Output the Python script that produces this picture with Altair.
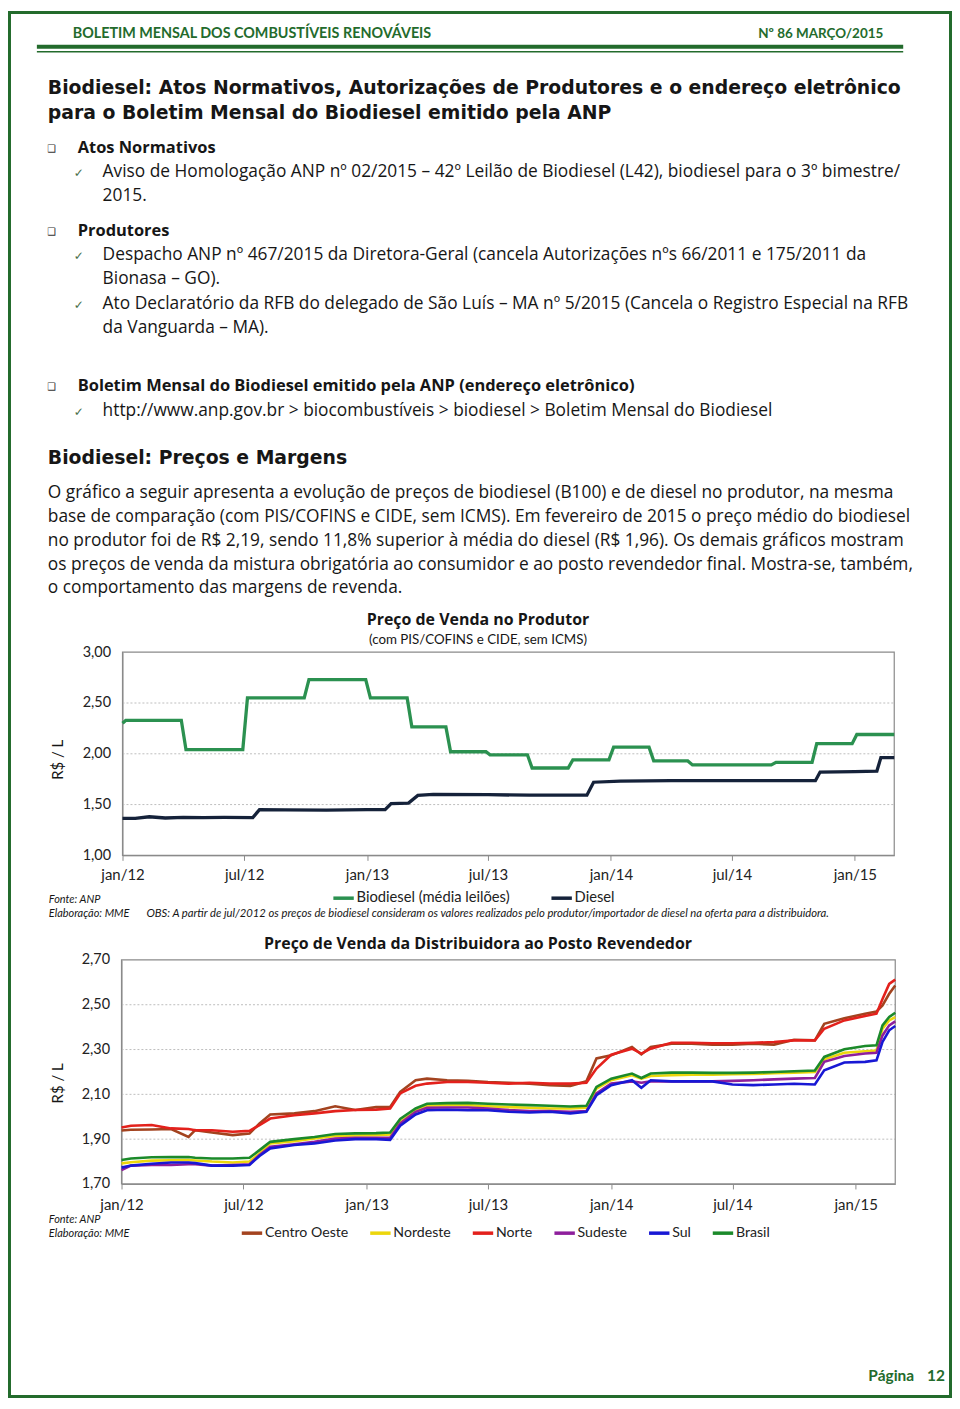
import altair as alt
import pandas as pd

# ---------------------------------------------------------------- data
producer_series = ["Biodiesel (média leilões)", "Diesel"]
producer_colors = ["#2b9150", "#15223a"]

bio_dates = ["2012-01-01", "2012-01-06", "2012-03-29", "2012-04-05", "2012-06-29", "2012-07-06",
             "2012-09-29", "2012-10-06", "2012-12-30", "2013-01-06", "2013-03-02", "2013-03-09",
             "2013-04-29", "2013-05-06", "2013-06-28", "2013-07-04", "2013-08-29", "2013-09-05",
             "2013-10-29", "2013-11-05", "2013-12-29", "2014-01-05", "2014-02-27", "2014-03-06",
             "2014-04-26", "2014-05-03", "2014-08-29", "2014-09-05", "2014-10-29", "2014-11-05",
             "2014-12-28", "2015-01-04", "2015-03-01"]
bio_values = [2.30, 2.33, 2.33, 2.04, 2.04, 2.55,
              2.55, 2.73, 2.73, 2.55, 2.55, 2.265,
              2.265, 2.02, 2.02, 1.99, 1.99, 1.86,
              1.86, 1.94, 1.94, 2.065, 2.065, 1.93,
              1.93, 1.89, 1.89, 1.915, 1.915, 2.10,
              2.10, 2.19, 2.19]

diesel_dates = ["2012-01-01", "2012-01-20", "2012-02-10", "2012-03-05", "2012-04-01", "2012-05-01",
                "2012-06-01", "2012-07-14", "2012-07-24", "2012-09-01", "2012-11-01", "2013-01-01",
                "2013-01-28", "2013-02-06", "2013-03-04", "2013-03-18", "2013-04-10", "2013-07-01",
                "2013-09-01", "2013-11-26", "2013-12-06", "2014-01-15", "2014-04-01", "2014-07-01",
                "2014-11-03", "2014-11-10", "2015-01-01", "2015-02-03", "2015-02-09", "2015-03-01"]
diesel_values = [1.365, 1.365, 1.38, 1.368, 1.375, 1.372,
                 1.373, 1.372, 1.45, 1.448, 1.445, 1.45,
                 1.45, 1.51, 1.515, 1.59, 1.60, 1.597,
                 1.592, 1.592, 1.72, 1.73, 1.735, 1.735,
                 1.735, 1.82, 1.824, 1.83, 1.962, 1.962]

dist_series = ["Centro Oeste", "Nordeste", "Norte", "Sudeste", "Sul", "Brasil"]
dist_colors = ["#a3431f", "#ecd60c", "#e3211c", "#8e1f9c", "#1818d4", "#1b8a2a"]

dist_dates = ["2012-01-01", "2012-01-15", "2012-02-15", "2012-03-15", "2012-04-10", "2012-04-20",
              "2012-05-15", "2012-06-15", "2012-07-10", "2012-07-25", "2012-08-10", "2012-09-15",
              "2012-10-15", "2012-11-15", "2012-12-15", "2013-01-15", "2013-02-05", "2013-02-20",
              "2013-03-15", "2013-04-01", "2013-05-01", "2013-06-01", "2013-07-01", "2013-08-01",
              "2013-09-01", "2013-10-01", "2013-11-01", "2013-11-25", "2013-12-10", "2014-01-01",
              "2014-02-01", "2014-02-15", "2014-03-01", "2014-04-01", "2014-05-01", "2014-06-01",
              "2014-07-01", "2014-08-01", "2014-09-01", "2014-10-01", "2014-11-01", "2014-11-15",
              "2014-12-15", "2015-01-15", "2015-02-01", "2015-02-10", "2015-02-20", "2015-03-01"]
dist_centro_oeste = [1.939, 1.942, 1.943, 1.945, 1.910, 1.940, 1.930, 1.918, 1.925, 1.970, 2.010, 2.015,
                     2.025, 2.047, 2.030, 2.043, 2.044, 2.111, 2.163, 2.170, 2.163, 2.160, 2.155, 2.152,
                     2.148, 2.141, 2.138, 2.158, 2.260, 2.274, 2.311, 2.278, 2.311, 2.326, 2.326, 2.322,
                     2.322, 2.326, 2.322, 2.344, 2.341, 2.415, 2.440, 2.460, 2.470, 2.497, 2.549, 2.586]
dist_nordeste = [1.792, 1.797, 1.804, 1.806, 1.807, 1.805, 1.800, 1.796, 1.800, 1.836, 1.881, 1.891,
                 1.903, 1.914, 1.916, 1.918, 1.921, 1.977, 2.025, 2.049, 2.052, 2.052, 2.047, 2.043,
                 2.040, 2.037, 2.037, 2.040, 2.126, 2.163, 2.185, 2.170, 2.182, 2.185, 2.188, 2.188,
                 2.190, 2.191, 2.194, 2.197, 2.200, 2.256, 2.286, 2.292, 2.296, 2.393, 2.430, 2.445]
dist_norte = [1.952, 1.960, 1.963, 1.948, 1.945, 1.940, 1.940, 1.933, 1.937, 1.963, 1.992, 2.007,
              2.015, 2.025, 2.030, 2.032, 2.037, 2.104, 2.138, 2.148, 2.155, 2.155, 2.152, 2.148,
              2.152, 2.148, 2.148, 2.152, 2.215, 2.277, 2.304, 2.282, 2.304, 2.330, 2.330, 2.328,
              2.328, 2.330, 2.334, 2.341, 2.341, 2.393, 2.430, 2.450, 2.460, 2.526, 2.593, 2.612]
dist_sudeste = [1.762, 1.782, 1.785, 1.785, 1.788, 1.788, 1.782, 1.785, 1.788, 1.829, 1.866, 1.877,
                1.888, 1.903, 1.906, 1.906, 1.906, 1.970, 2.022, 2.040, 2.041, 2.041, 2.037, 2.030,
                2.026, 2.025, 2.022, 2.025, 2.104, 2.148, 2.158, 2.152, 2.158, 2.158, 2.158, 2.158,
                2.160, 2.163, 2.167, 2.170, 2.173, 2.245, 2.271, 2.282, 2.286, 2.363, 2.408, 2.426]
dist_sul = [1.773, 1.782, 1.790, 1.796, 1.796, 1.793, 1.782, 1.782, 1.785, 1.825, 1.859, 1.874,
            1.881, 1.894, 1.900, 1.900, 1.897, 1.960, 2.010, 2.029, 2.031, 2.029, 2.029, 2.022,
            2.019, 2.022, 2.015, 2.022, 2.096, 2.141, 2.163, 2.129, 2.163, 2.158, 2.158, 2.158,
            2.144, 2.141, 2.144, 2.147, 2.144, 2.207, 2.242, 2.245, 2.252, 2.334, 2.386, 2.405]
dist_brasil = [1.807, 1.814, 1.819, 1.820, 1.820, 1.817, 1.814, 1.814, 1.817, 1.851, 1.888, 1.900,
               1.910, 1.923, 1.926, 1.927, 1.930, 1.990, 2.037, 2.058, 2.061, 2.062, 2.058, 2.055,
               2.052, 2.049, 2.046, 2.049, 2.133, 2.170, 2.193, 2.173, 2.193, 2.197, 2.197, 2.196,
               2.196, 2.197, 2.200, 2.203, 2.206, 2.267, 2.301, 2.316, 2.319, 2.408, 2.445, 2.464]

x_tick_dates = ["2012-01-01", "2012-07-01", "2013-01-01", "2013-07-01", "2014-01-01", "2014-07-01", "2015-01-01"]
x_tick_labels = ["jan/12", "jul/12", "jan/13", "jul/13", "jan/14", "jul/14", "jan/15"]
x_domain_dates = ["2012-01-01", "2015-03-01"]
producer_y_ticks = [1.0, 1.5, 2.0, 2.5, 3.0]
producer_grid = [1.5, 2.0, 2.5]
dist_y_ticks = [1.7, 1.9, 2.1, 2.3, 2.5, 2.7]
dist_grid = [1.9, 2.1, 2.3, 2.5]

# ---------------------------------------------------------------- texts
header_left = "BOLETIM MENSAL DOS COMBUSTÍVEIS RENOVÁVEIS"
header_right = "Nº 86 MARÇO/2015"
title_a = ["Biodiesel: Atos Normativos, Autorizações de Produtores e o endereço eletrônico",
           "para o Boletim Mensal do Biodiesel emitido pela ANP"]
sec1 = "Atos Normativos"
sec1_items = ["Aviso de Homologação ANP nº 02/2015 – 42º Leilão de Biodiesel (L42), biodiesel para o 3º bimestre/",
              "2015."]
sec2 = "Produtores"
sec2_item1 = ["Despacho ANP nº 467/2015 da Diretora-Geral (cancela Autorizações nºs 66/2011 e 175/2011 da",
              "Bionasa – GO)."]
sec2_item2 = ["Ato Declaratório da RFB do delegado de São Luís – MA nº 5/2015 (Cancela o Registro Especial na RFB",
              "da Vanguarda – MA)."]
sec3 = "Boletim Mensal do Biodiesel emitido pela ANP (endereço eletrônico)"
sec3_item = "http://www.anp.gov.br > biocombustíveis > biodiesel > Boletim Mensal do Biodiesel"
title_b = "Biodiesel: Preços e Margens"
paragraph = ["O gráfico a seguir apresenta a evolução de preços de biodiesel (B100) e de diesel no produtor, na mesma",
             "base de comparação (com PIS/COFINS e CIDE, sem ICMS). Em fevereiro de 2015 o preço médio do biodiesel",
             "no produtor foi de R$ 2,19, sendo 11,8% superior à média do diesel (R$ 1,96). Os demais gráficos mostram",
             "os preços de venda da mistura obrigatória ao consumidor e ao posto revendedor final. Mostra-se, também,",
             "o comportamento das margens de revenda."]
chart1_title = "Preço de Venda no Produtor"
chart1_subtitle = "(com PIS/COFINS e CIDE,  sem ICMS)"
chart2_title = "Preço de Venda da Distribuidora ao Posto Revendedor"
y_title = "R$ / L"
fonte = "Fonte: ANP"
elab = "Elaboração: MME"
obs = ("OBS: A partir de jul/2012 os preços de biodiesel consideram os valores realizados pelo "
       "produtor/importador de diesel na oferta para a distribuidora.")
footer_word = "Página"
footer_num = "12"

# ---------------------------------------------------------------- tables
df_prod = pd.concat([
    pd.DataFrame({"date": bio_dates, "value": bio_values, "series": producer_series[0]}),
    pd.DataFrame({"date": diesel_dates, "value": diesel_values, "series": producer_series[1]}),
], ignore_index=True)
dist_values = [dist_centro_oeste, dist_nordeste, dist_norte, dist_sudeste, dist_sul, dist_brasil]
df_dist = pd.concat([pd.DataFrame({"date": dist_dates, "value": v, "series": s})
                     for s, v in zip(dist_series, dist_values)], ignore_index=True)


def ms(d):
    return int(pd.Timestamp(d, tz="UTC").value // 10**6)


tick_ms = [ms(d) for d in x_tick_dates]
dom_ms = [ms(d) for d in x_domain_dates]
xlabel_expr = "%s[indexof(%s, time(datum.value))]" % (
    "[" + ",".join("'%s'" % s for s in x_tick_labels) + "]",
    "[" + ",".join(str(t) for t in tick_ms) + "]")
ylabel_expr = "replace(format(datum.value, '.2f'), '.', ',')"

# ---------------------------------------------------------------- layout
W, H = 948, 1393
FONT = "Lato"
BODY = "Open Sans"
TFONT = "DejaVu Sans"
DKGREEN = "#236b2c"
AXGRAY = "#8a8a8a"
EMPTY = alt.Data(values=[{}])
BODY_SIZE = 17.4

P_X = [115, 890]
P_Y = [848, 644]
D_X = [114, 891]
D_Y = [1178, 953]


def label(s, x, y, size=BODY_SIZE, weight="normal", font=BODY, color="#161616", align="left",
          italic=False, angle=0):
    kw = dict(text=s, align=align, baseline="middle", font=font, fontSize=size,
              fontWeight=weight, color=color)
    if italic:
        kw["fontStyle"] = "italic"
    if angle:
        kw["angle"] = angle
    return alt.Chart(EMPTY).mark_text(**kw).encode(x=alt.value(x), y=alt.value(y))


def hline(x0, x1, y, width, color):
    return alt.Chart(EMPTY).mark_rule(color=color, strokeWidth=width).encode(
        x=alt.value(x0), x2=alt.value(x1), y=alt.value(y))


def time_x(rng, axis_y, pad):
    return alt.X("date:T",
                 scale=alt.Scale(type="utc", domain=dom_ms, range=rng),
                 axis=alt.Axis(orient="bottom", offset=axis_y - H, values=tick_ms,
                               labelExpr=xlabel_expr, grid=False, title=None,
                               domainColor=AXGRAY, tickColor=AXGRAY, tickSize=5,
                               labelFont=FONT, labelFontSize=15, labelColor="#222222",
                               labelPadding=pad, labelFlush=False, labelOverlap=False))


def value_y(dom, rng, ticks, axis_x):
    return alt.Y("value:Q",
                 scale=alt.Scale(domain=dom, range=rng, nice=False, zero=False),
                 axis=alt.Axis(orient="left", offset=-axis_x, values=ticks, labelExpr=ylabel_expr,
                               grid=False, ticks=False, title=None, domainColor=AXGRAY,
                               labelFont=FONT, labelFontSize=14.5, labelColor="#222222",
                               labelPadding=12))


def plot_frame(xr, yr):
    return alt.Chart(EMPTY).mark_rect(fillOpacity=0, stroke=AXGRAY, strokeWidth=1.2).encode(
        x=alt.value(xr[0]), x2=alt.value(xr[1]), y=alt.value(yr[1]), y2=alt.value(yr[0]))


def legend(x, y, pad, size):
    return alt.Legend(orient="none", legendX=x, legendY=y, direction="horizontal", title=None,
                      symbolType="stroke", symbolStrokeWidth=3.5, symbolSize=420,
                      labelFont=FONT, labelFontSize=size, labelColor="#222222",
                      labelOffset=1, columnPadding=pad, padding=0)


# chart 1 ------------------------------------------------------------
y1 = value_y([1.0, 3.0], P_Y, producer_y_ticks, P_X[0])
grid1 = alt.Chart(pd.DataFrame({"value": producer_grid})).mark_rule(
    color="#bdbdbd", strokeDash=[2, 2], strokeWidth=1).encode(
    y=y1, x=alt.value(P_X[0]), x2=alt.value(P_X[1]))
lines1 = alt.Chart(df_prod).mark_line(strokeWidth=3.3).encode(
    x=time_x(P_X, P_Y[0], 7), y=y1,
    color=alt.Color("series:N", scale=alt.Scale(domain=producer_series, range=producer_colors),
                    legend=legend(325, 879, 34, 14.8)))
chart1 = alt.layer(grid1, plot_frame(P_X, P_Y), lines1)

# chart 2 ------------------------------------------------------------
y2 = value_y([1.7, 2.7], D_Y, dist_y_ticks, D_X[0])
grid2 = alt.Chart(pd.DataFrame({"value": dist_grid})).mark_rule(
    color="#bdbdbd", strokeDash=[2, 2], strokeWidth=1).encode(
    y=y2, x=alt.value(D_X[0]), x2=alt.value(D_X[1]))
lines2 = alt.Chart(df_dist).mark_line(strokeWidth=2.6).encode(
    x=time_x(D_X, D_Y[0], 9), y=y2,
    color=alt.Color("series:N", scale=alt.Scale(domain=dist_series, range=dist_colors),
                    legend=legend(233, 1215, 14, 14.2)))
chart2 = alt.layer(grid2, plot_frame(D_X, D_Y), lines2)

# page -----------------------------------------------------------------
CHK = "#4a6e4a"
BOLD = 16.5
TSIZE = 18.9
page = [
    alt.Chart(EMPTY).mark_rect(fillOpacity=0, stroke=DKGREEN, strokeWidth=3).encode(
        x=alt.value(1.5), x2=alt.value(W - 1.5), y=alt.value(1.5), y2=alt.value(H - 1.5)),
    label(header_left, 65, 23, size=14.4, weight="bold", font=FONT, color=DKGREEN),
    label(header_right, 879, 23, size=13.5, weight="bold", font=FONT, color=DKGREEN, align="right"),
    hline(29, 899, 36, 4, DKGREEN),
    hline(29, 899, 41, 1.5, DKGREEN),
    label(title_a[0], 40, 77, size=TSIZE, weight="bold", font=TFONT),
    label(title_a[1], 40, 103, size=TSIZE, weight="bold", font=TFONT),
    label("❑", 44, 139, size=10, font="DejaVu Sans", color="#333333", align="center"),
    label(sec1, 70, 138, size=BOLD, weight="bold"),
    label("✓", 71, 163, size=12, font="DejaVu Sans", color=CHK, align="center"),
    label(sec1_items[0], 95, 162),
    label(sec1_items[1], 95, 186),
    label("❑", 44, 222, size=10, font="DejaVu Sans", color="#333333", align="center"),
    label(sec2, 70, 221, size=BOLD, weight="bold"),
    label("✓", 71, 246, size=12, font="DejaVu Sans", color=CHK, align="center"),
    label(sec2_item1[0], 95, 245),
    label(sec2_item1[1], 95, 269),
    label("✓", 71, 295, size=12, font="DejaVu Sans", color=CHK, align="center"),
    label(sec2_item2[0], 95, 294),
    label(sec2_item2[1], 95, 318),
    label("❑", 44, 378, size=10, font="DejaVu Sans", color="#333333", align="center"),
    label(sec3, 70, 377, size=BOLD, weight="bold"),
    label("✓", 71, 403, size=12, font="DejaVu Sans", color=CHK, align="center"),
    label(sec3_item, 95, 402),
    label(title_b, 40, 449, size=TSIZE, weight="bold", font=TFONT),
]
page += [label(line, 40, 484 + 24 * i) for i, line in enumerate(paragraph)]
page += [
    label(chart1_title, 472, 612, size=16, weight="bold", align="center"),
    label(chart1_subtitle, 472, 632, size=13.4, font=FONT, align="center"),
    label(y_title, 50, 752, size=15, font=FONT, angle=270, align="center"),
    label(fonte, 41, 893, size=11, font=FONT, italic=True),
    label(elab, 41, 907, size=11, font=FONT, italic=True),
    label(obs, 139, 907, size=11.3, font=FONT, italic=True),
    label(chart2_title, 472, 937, size=16, weight="bold", align="center"),
    label(y_title, 50, 1077, size=15, font=FONT, angle=270, align="center"),
    label(fonte, 41, 1214, size=11, font=FONT, italic=True),
    label(elab, 41, 1228, size=11, font=FONT, italic=True),
    label(footer_word, 864, 1371, size=15.5, weight="bold", font=FONT, color=DKGREEN),
    label(footer_num, 923, 1371, size=15.5, weight="bold", font=FONT, color=DKGREEN),
]

chart = alt.layer(*page, chart1, chart2).resolve_scale(
    x="independent", y="independent", color="independent"
).properties(
    width=W, height=H, autosize=alt.AutoSizeParams(type="none"), padding=0,
    background="white"
).configure_view(strokeWidth=0)

chart.save("out.html", embed_options={"renderer": "svg", "actions": False})
